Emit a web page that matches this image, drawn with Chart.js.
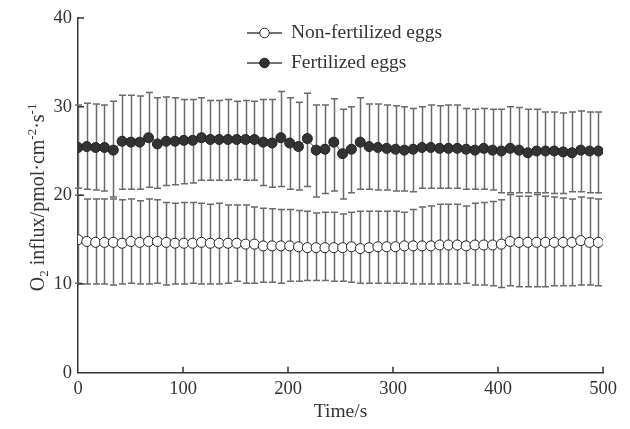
<!DOCTYPE html>
<html>
<head>
<meta charset="utf-8">
<script src="https://cdn.jsdelivr.net/npm/chart.js@4"></script>
<style>
  html, body { margin: 0; padding: 0; background: #fff; }
  canvas { display: block; }
</style>
</head>
<body>
<canvas id="myChart" width="630" height="429"></canvas>
<script>
// time points (s)
const times = [0, 8.4, 16.8, 25.2, 33.6, 42, 50.4, 58.8, 67.2, 75.6, 84, 92.4, 100.8, 109.2, 117.6, 126, 134.4, 142.8, 151.2, 159.6,
  168, 176.4, 184.8, 193.2, 201.6, 210, 218.4, 226.8, 235.2, 243.6, 252, 260.4, 268.8, 277.2, 285.6, 294, 302.4, 310.8, 319.2, 327.6,
  336, 344.4, 352.8, 361.2, 369.6, 378, 386.4, 394.8, 403.2, 411.6, 420, 428.4, 436.8, 445.2, 453.6, 462, 470.4, 478.8, 487.2, 495.6];

// fertilized eggs: mean, upper and lower whisker ends
const fertMean = [25.4, 25.5, 25.4, 25.4, 25.1, 26.1, 26.0, 26.0, 26.5, 25.8, 26.1, 26.1, 26.2, 26.2, 26.5, 26.3, 26.3, 26.3, 26.3, 26.3,
  26.3, 26.0, 25.9, 26.5, 25.9, 25.5, 26.4, 25.1, 25.2, 26.0, 24.7, 25.2, 26.0, 25.5, 25.4, 25.3, 25.2, 25.1, 25.2, 25.4,
  25.4, 25.3, 25.3, 25.3, 25.2, 25.1, 25.3, 25.1, 25.0, 25.3, 25.1, 24.8, 25.0, 25.0, 25.0, 24.9, 24.8, 25.1, 25.0, 25.0];
const fertUp = [30.2, 30.4, 30.3, 30.2, 30.6, 31.3, 31.3, 31.2, 31.6, 31.0, 31.1, 31.0, 30.8, 30.8, 31.0, 30.7, 30.7, 30.8, 30.6, 30.7,
  30.6, 30.8, 30.8, 31.7, 31.0, 30.5, 31.5, 30.2, 30.2, 30.9, 29.7, 30.0, 31.0, 30.3, 30.3, 30.2, 30.1, 30.0, 29.8, 30.0,
  30.2, 30.1, 30.2, 30.2, 29.8, 29.7, 29.8, 29.7, 29.7, 30.0, 29.9, 29.7, 29.7, 29.4, 29.4, 29.3, 29.4, 29.5, 29.4, 29.4];
const fertLow = [20.8, 20.7, 20.6, 20.5, 19.8, 20.7, 20.7, 20.7, 20.9, 20.8, 21.1, 21.2, 21.3, 21.4, 21.7, 21.7, 21.7, 21.7, 21.8, 21.7,
  21.7, 21.1, 20.9, 21.0, 20.7, 20.6, 21.0, 19.8, 20.2, 20.5, 19.6, 20.3, 20.7, 20.7, 20.6, 20.6, 20.5, 20.5, 20.4, 20.8,
  20.8, 20.8, 20.8, 20.8, 20.7, 20.7, 20.7, 20.6, 20.3, 20.3, 20.3, 20.3, 20.3, 20.3, 20.2, 20.2, 20.4, 20.4, 20.3, 20.3];

// non-fertilized eggs
const nonMean = [15.0, 14.8, 14.7, 14.7, 14.7, 14.6, 14.8, 14.7, 14.8, 14.8, 14.7, 14.6, 14.6, 14.6, 14.7, 14.6, 14.6, 14.6, 14.6, 14.5,
  14.5, 14.3, 14.3, 14.3, 14.3, 14.2, 14.1, 14.1, 14.1, 14.1, 14.1, 14.2, 14.0, 14.1, 14.2, 14.2, 14.2, 14.3, 14.3, 14.3,
  14.3, 14.4, 14.4, 14.4, 14.3, 14.4, 14.4, 14.4, 14.5, 14.8, 14.7, 14.7, 14.7, 14.7, 14.7, 14.7, 14.7, 14.9, 14.7, 14.7];
const nonUp = [20.0, 19.6, 19.6, 19.6, 19.6, 19.5, 19.6, 19.4, 19.6, 19.5, 19.2, 19.1, 19.2, 19.2, 19.1, 19.0, 19.1, 18.9, 18.9, 18.9,
  18.7, 18.55, 18.5, 18.4, 18.4, 18.3, 18.2, 18.0, 18.1, 18.1, 17.9, 18.1, 18.2, 18.2, 18.2, 18.2, 18.2, 18.1, 18.4, 18.7,
  18.8, 19.0, 19.0, 19.0, 18.8, 19.1, 19.2, 19.3, 19.5, 20.1, 19.9, 19.9, 20.1, 19.9, 19.8, 19.7, 19.6, 19.8, 19.7, 19.6];
const nonLow = [10.1, 10.0, 10.0, 10.0, 9.9, 10.0, 10.1, 10.0, 10.0, 10.1, 9.9, 10.0, 10.0, 10.1, 10.0, 10.0, 10.0, 10.1, 10.3, 10.1,
  10.1, 10.2, 10.2, 10.1, 10.3, 10.3, 10.4, 10.4, 10.4, 10.3, 10.3, 10.2, 10.1, 10.1, 10.1, 10.1, 10.1, 10.1, 10.0, 10.0,
  10.0, 10.0, 10.0, 10.0, 10.1, 9.9, 9.9, 9.8, 9.6, 9.8, 9.7, 9.7, 9.7, 9.7, 9.8, 9.8, 9.8, 9.9, 9.9, 9.8];

const xTicks = [0, 100, 200, 300, 400, 500];
const yTicks = [0, 10, 20, 30, 40];
const seriesNames = ["Non-fertilized eggs", "Fertilized eggs"];

const FONT = '"Liberation Serif", "Times New Roman", serif';
const INK = '#333';

// error bars under the markers
const errorBars = {
    id: 'errorBars',
    beforeDatasetsDraw(chart) {
        const { ctx, scales: { x, y } } = chart;
        ctx.save();
        ctx.strokeStyle = '#6a6a6a';
        ctx.lineWidth = 1.5;
        [[fertUp, fertLow], [nonUp, nonLow]].forEach(([up, low]) => {
            times.forEach((t, i) => {
                const px = Math.round(x.getPixelForValue(t)) + 0.5;
                const top = y.getPixelForValue(up[i]);
                const bot = y.getPixelForValue(low[i]);
                ctx.beginPath();
                ctx.moveTo(px, top); ctx.lineTo(px, bot);
                ctx.moveTo(px - 3.5, top); ctx.lineTo(px + 3.5, top);
                ctx.moveTo(px - 3.5, bot); ctx.lineTo(px + 3.5, bot);
                ctx.stroke();
            });
        });
        ctx.restore();
    }
};

// inward tick marks, y title with sub/superscripts, and the legend
const decorations = {
    id: 'decorations',
    afterDraw(chart) {
        const { ctx, scales: { x, y }, chartArea } = chart;
        ctx.save();
        ctx.strokeStyle = INK;
        ctx.lineWidth = 1.5;
        ctx.beginPath();
        yTicks.slice(1).forEach(v => {
            const py = y.getPixelForValue(v);
            ctx.moveTo(chartArea.left, py); ctx.lineTo(chartArea.left + 6, py);
        });
        xTicks.slice(1).forEach(v => {
            const px = x.getPixelForValue(v);
            ctx.moveTo(px, chartArea.bottom); ctx.lineTo(px, chartArea.bottom - 6);
        });
        ctx.stroke();

        // y axis title
        const parts = [
            ['O', 0, 20], ['2', 4, 13], [' influx/pmol\u00b7cm', 0, 20], ['-2', -8, 13],
            ['\u00b7s', 0, 20], ['-1', -8, 13]
        ];
        let total = 0;
        parts.forEach(p => { ctx.font = p[2] + 'px ' + FONT; total += ctx.measureText(p[0]).width; });
        ctx.translate(44, (chartArea.top + chartArea.bottom) / 2 + 2);
        ctx.rotate(-Math.PI / 2);
        ctx.fillStyle = INK;
        ctx.textBaseline = 'alphabetic';
        let cx = -total / 2;
        parts.forEach(p => {
            ctx.font = p[2] + 'px ' + FONT;
            ctx.fillText(p[0], cx, p[1]);
            cx += ctx.measureText(p[0]).width;
        });
        ctx.setTransform(1, 0, 0, 1, 0, 0);

        // legend
        const rows = [
            { y: 33, fill: '#fff' },
            { y: 63, fill: '#333' }
        ];
        ctx.font = '19.5px ' + FONT;
        ctx.textBaseline = 'middle';
        rows.forEach((r, i) => {
            ctx.strokeStyle = '#444';
            ctx.lineWidth = 1.5;
            ctx.beginPath();
            ctx.moveTo(247, r.y); ctx.lineTo(282, r.y);
            ctx.stroke();
            ctx.beginPath();
            ctx.arc(264.5, r.y, 4.8, 0, Math.PI * 2);
            ctx.fillStyle = r.fill;
            ctx.fill();
            ctx.lineWidth = 1;
            ctx.strokeStyle = '#222';
            ctx.stroke();
            ctx.fillStyle = INK;
            ctx.fillText(seriesNames[i], 291, r.y);
        });
        ctx.restore();
    }
};

const ctx = document.getElementById("myChart").getContext("2d");

let chart = new Chart(ctx, {
    type: 'line',
    data: {
        datasets: [{
            label: seriesNames[0],
            data: times.map((t, i) => ({ x: t, y: nonMean[i] })),
            borderColor: '#444',
            borderWidth: 1,
            pointRadius: 5,
            pointBackgroundColor: '#fff',
            pointBorderColor: '#222',
            pointBorderWidth: 1,
            tension: 0
        }, {
            label: seriesNames[1],
            data: times.map((t, i) => ({ x: t, y: fertMean[i] })),
            borderColor: '#444',
            borderWidth: 1,
            pointRadius: 5,
            pointBackgroundColor: '#333',
            pointBorderColor: '#222',
            pointBorderWidth: 1,
            tension: 0
        }]
    },
    options: {
        responsive: false,
        animation: false,
        devicePixelRatio: 1,
        layout: { padding: { top: 18, right: 27, left: 0, bottom: 0 } },
        plugins: {
            legend: { display: false },
            tooltip: { enabled: false }
        },
        scales: {
            x: {
                type: 'linear',
                min: 0,
                max: 500,
                afterFit(scale) { scale.height = 56.3; },
                afterBuildTicks(scale) { scale.ticks = xTicks.map(v => ({ value: v })); },
                grid: { display: false, drawTicks: false },
                border: { display: true, color: INK, width: 1.5 },
                ticks: { color: INK, padding: 5, maxRotation: 0, font: { family: FONT, size: 18.5 } },
                title: { display: true, text: 'Time/s', color: INK, padding: { bottom: 5 }, font: { family: FONT, size: 19.5 } }
            },
            y: {
                min: 0,
                max: 40,
                afterFit(scale) { scale.width = 78; },
                afterBuildTicks(scale) { scale.ticks = yTicks.map(v => ({ value: v })); },
                grid: { display: false, drawTicks: false },
                border: { display: true, color: INK, width: 1.5 },
                ticks: { color: INK, padding: 6, font: { family: FONT, size: 18.5 } }
            }
        }
    },
    plugins: [errorBars, decorations]
});
</script>
</body>
</html>
